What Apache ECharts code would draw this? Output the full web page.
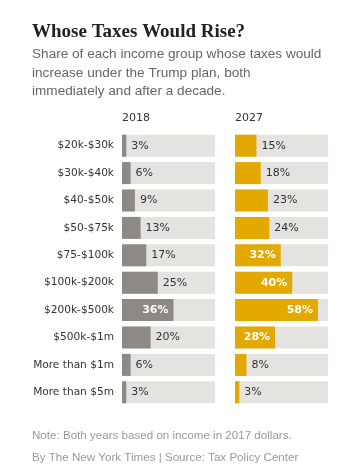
<!DOCTYPE html>
<html>
<head>
<meta charset="utf-8">
<script src="https://cdn.jsdelivr.net/npm/echarts@6/dist/echarts.min.js"></script>
<style>
  html, body { margin: 0; padding: 0; background: #fff; }
  #chart { width: 353px; height: 473px; }
</style>
</head>
<body>
<div id="chart"></div>
<script>
// income groups, top to bottom
const groups = ['$20k-$30k', '$30k-$40k', '$40-$50k', '$50-$75k', '$75-$100k',
  '$100k-$200k', '$200k-$500k', '$500k-$1m', 'More than $1m', 'More than $5m']
// share whose taxes would rise (%)
const share2018 = [3, 6, 9, 13, 17, 25, 36, 20, 6, 3]
const share2027 = [15, 18, 23, 24, 32, 40, 58, 28, 8, 3]
const years = ['2018', '2027']

const AXIS_MAX = 65
const GRAY = '#8d8a85'
const GOLD = '#e3a900'
const TRACK = '#e4e3df'
const sans = 'DejaVu Sans'

// big bars get their label inside in white bold
function toItems(values) {
    return values.map(v => {
        const inside = v >= 27
        return {
            value: v,
            label: inside
                ? { position: 'insideRight', distance: 5, color: '#fff', fontWeight: 'bold' }
                : { position: 'right', distance: 5, color: '#333', fontWeight: 'normal' }
        }
    })
}

const chart = echarts.init(document.getElementById('chart'), null, { renderer: 'canvas' })

const gridLefts = [122, 235]

const option = {
    animation: false,
    title: [
        {
            text: 'Whose Taxes Would Rise?',
            left: 32, top: 23, padding: 0,
            textStyle: { fontFamily: 'Liberation Serif', fontWeight: 'bold', fontSize: 19, color: '#222' }
        },
        {
            text: 'Share of each income group whose taxes would\nincrease under the Trump plan, both\nimmediately and after a decade.',
            left: 32, top: 45, padding: 0,
            textStyle: { fontFamily: 'Liberation Sans', fontWeight: 'normal', fontSize: 13.6, lineHeight: 18.5, color: '#666' }
        },
        {
            text: 'Note: Both years based on income in 2017 dollars.\nBy The New York Times | Source: Tax Policy Center',
            left: 32, top: 425, padding: 0,
            textStyle: { fontFamily: 'Liberation Sans', fontWeight: 'normal', fontSize: 11.6, lineHeight: 22, color: '#999' }
        }
    ],
    graphic: years.map((y, i) => ({
        type: 'text',
        left: gridLefts[i], top: 113,
        style: { text: y, font: '11px "' + sans + '"', fill: '#333' }
    })),
    grid: gridLefts.map(l => ({ left: l, width: 93, top: 132, height: 274 })),
    xAxis: [0, 1].map(i => ({
        gridIndex: i, type: 'value', min: 0, max: AXIS_MAX, show: false
    })),
    yAxis: [0, 1].map(i => ({
        gridIndex: i, type: 'category', data: groups, inverse: true,
        axisLine: { show: false }, axisTick: { show: false },
        axisLabel: {
            show: i === 0, margin: 8, fontFamily: sans, fontSize: 10.6, color: '#333'
        }
    })),
    series: [share2018, share2027].map((vals, i) => ({
        type: 'bar',
        xAxisIndex: i, yAxisIndex: i,
        data: toItems(vals),
        barWidth: 22,
        itemStyle: { color: i === 0 ? GRAY : GOLD },
        showBackground: true,
        backgroundStyle: { color: TRACK },
        label: {
            show: true, formatter: '{c}%', fontFamily: sans, fontSize: 11
        }
    }))
}

chart.setOption(option)
</script>
</body>
</html>
